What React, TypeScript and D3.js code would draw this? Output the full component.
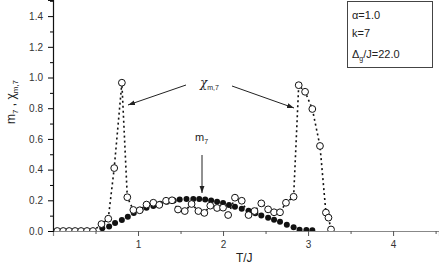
import React, { useEffect, useRef } from 'react';
import * as d3 from 'd3';

// chi_{m,7} (open circles, dotted line)
const chiT = [0.05, 0.12, 0.19, 0.26, 0.33, 0.40, 0.47, 0.57, 0.65, 0.72, 0.81, 0.874, 0.945, 1.02, 1.10, 1.18, 1.25, 1.33, 1.40, 1.47, 1.55, 1.63, 1.71, 1.78, 1.85, 1.93, 2.0, 2.06, 2.14, 2.22, 2.30, 2.37, 2.45, 2.53, 2.60, 2.67, 2.74, 2.83, 2.89, 2.965, 3.05, 3.14, 3.21, 3.24, 3.27];
const chiV = [0, 0, 0, 0, 0, 0, 0, 0.045, 0.08, 0.41, 0.966, 0.22, 0.137, 0.135, 0.172, 0.184, 0.17, 0.197, 0.2, 0.14, 0.13, 0.176, 0.13, 0.118, 0.165, 0.15, 0.152, 0.104, 0.217, 0.197, 0.104, 0.13, 0.18, 0.141, 0.122, 0.122, 0.184, 0.223, 0.95, 0.907, 0.795, 0.554, 0.12, 0.087, 0.01];

// m_7 (filled circles)
const mT = [0.58, 0.66, 0.73, 0.81, 0.88, 0.95, 1.03, 1.10, 1.18, 1.26, 1.34, 1.42, 1.49, 1.57, 1.65, 1.72, 1.79, 1.86, 1.93, 2.0, 2.07, 2.14, 2.22, 2.30, 2.38, 2.45, 2.53, 2.60, 2.67, 2.75, 2.83, 2.90, 2.98, 3.05];
const mV = [0.018, 0.03, 0.052, 0.072, 0.093, 0.118, 0.138, 0.152, 0.163, 0.178, 0.19, 0.199, 0.205, 0.208, 0.209, 0.208, 0.206, 0.199, 0.191, 0.183, 0.17, 0.158, 0.145, 0.132, 0.116, 0.101, 0.087, 0.073, 0.06, 0.04, 0.024, 0.008, 0.006, 0.005];

const xTicks = [1, 2, 3, 4];
const yTicks = [0, 0.2, 0.4, 0.6, 0.8, 1.0, 1.2, 1.4];

function App() {
  const svgRef = useRef<SVGSVGElement>(null);

  useEffect(() => {
    const svg = d3.select(svgRef.current);
    svg.selectAll('*').remove();
    const W = 439, H = 272;
    const left = 53, bottom = 231, top = 0;

    const x = d3.scaleLinear().domain([0, 4.54]).range([left, W]);
    const y = d3.scaleLinear().domain([0, 1.505]).range([bottom, top]);

    const font = 'Liberation Sans, Arial, sans-serif';

    svg.append('defs').append('clipPath').attr('id', 'plotclip')
      .append('rect').attr('x', left).attr('y', top).attr('width', W - left).attr('height', bottom - top);

    // arrowhead
    svg.select('defs').append('marker')
      .attr('id', 'arr').attr('viewBox', '0 0 10 10').attr('refX', 10).attr('refY', 5)
      .attr('markerWidth', 7).attr('markerHeight', 7).attr('orient', 'auto-start-reverse')
      .append('path').attr('d', 'M0,1.5 L10,5 L0,8.5 Z').attr('fill', '#222');

    // x axis
    const xAxis = d3.axisBottom(x).tickValues(xTicks).tickSize(5).tickFormat(d3.format('d'));
    const gx = svg.append('g').attr('transform', `translate(0,${bottom})`).call(xAxis);
    gx.select('.domain').attr('stroke', '#888').attr('stroke-width', 1.2);
    gx.selectAll('.tick line').attr('stroke', '#555');
    gx.selectAll('.tick text').attr('font-family', font).attr('font-size', 10).attr('fill', '#333').attr('dy', '0.9em');
    const gxm = svg.append('g').attr('transform', `translate(0,${bottom})`)
      .call(d3.axisBottom(x).tickValues([0.5, 1.5, 2.5, 3.5, 4.5]).tickSize(3).tickFormat(() => ''));
    gxm.select('.domain').remove();
    gxm.selectAll('.tick line').attr('stroke', '#555');

    // y axis
    const yAxis = d3.axisLeft(y).tickValues(yTicks).tickSize(5).tickFormat(d3.format('.1f'));
    const gy = svg.append('g').attr('transform', `translate(${left},0)`).call(yAxis);
    gy.select('.domain').attr('stroke', '#111').attr('stroke-width', 1.2);
    gy.selectAll('.tick text').attr('font-family', font).attr('font-size', 10).attr('fill', '#333').attr('dx', '-0.2em');
    const gym = svg.append('g').attr('transform', `translate(${left},0)`)
      .call(d3.axisLeft(y).tickValues([0.1, 0.3, 0.5, 0.7, 0.9, 1.1, 1.3, 1.5]).tickSize(3).tickFormat(() => ''));
    gym.select('.domain').remove();

    // axis labels
    svg.append('text').attr('x', x(2.25)).attr('y', 262).attr('text-anchor', 'middle')
      .attr('font-family', font).attr('font-size', 12).attr('fill', '#222').text('T/J');
    const yl = svg.append('text').attr('transform', 'translate(15,102) rotate(-90)').attr('text-anchor', 'middle')
      .attr('font-family', font).attr('font-size', 12).attr('fill', '#222');
    yl.append('tspan').text('m');
    yl.append('tspan').attr('font-size', 8).attr('dy', 3).text('7');
    yl.append('tspan').attr('dy', -3).text(' ,  χ');
    yl.append('tspan').attr('font-size', 8).attr('dy', 3).text('m,7');

    const plot = svg.append('g').attr('clip-path', 'url(#plotclip)');

    const chi = chiT.map((t, i) => [t, chiV[i]] as [number, number]);
    const m = mT.map((t, i) => [t, mV[i]] as [number, number]);

    const line = d3.line<[number, number]>().x(d => x(d[0])).y(d => y(d[1]));
    plot.append('path').attr('d', line(chi)).attr('fill', 'none').attr('stroke', '#111')
      .attr('stroke-width', 1.6).attr('stroke-dasharray', '2 3');

    plot.selectAll('.m').data(m).enter().append('circle')
      .attr('cx', d => x(d[0])).attr('cy', d => y(d[1])).attr('r', 3).attr('fill', '#111');

    plot.selectAll('.chi').data(chi).enter().append('circle')
      .attr('cx', d => x(d[0])).attr('cy', d => y(d[1])).attr('r', 3.4)
      .attr('fill', '#fff').attr('stroke', '#111').attr('stroke-width', 1);

    // annotations
    const chiLbl = svg.append('text').attr('x', 200).attr('y', 87).attr('font-family', 'DejaVu Serif, serif')
      .attr('font-style', 'italic').attr('font-size', 12).attr('fill', '#222');
    chiLbl.append('tspan').text('χ');
    chiLbl.append('tspan').attr('font-size', 7).attr('dy', 3).attr('font-style', 'normal')
      .attr('font-family', font).text('m,7');
    svg.append('line').attr('x1', 186).attr('y1', 85).attr('x2', 128).attr('y2', 105)
      .attr('stroke', '#222').attr('stroke-width', 1).attr('marker-end', 'url(#arr)');
    svg.append('line').attr('x1', 232).attr('y1', 86).attr('x2', 294).attr('y2', 108)
      .attr('stroke', '#222').attr('stroke-width', 1).attr('marker-end', 'url(#arr)');

    const mLbl = svg.append('text').attr('x', 195).attr('y', 141).attr('font-family', font)
      .attr('font-size', 11).attr('fill', '#222');
    mLbl.append('tspan').text('m');
    mLbl.append('tspan').attr('font-size', 7).attr('dy', 3).text('7');
    svg.append('line').attr('x1', 202).attr('y1', 155).attr('x2', 202).attr('y2', 193)
      .attr('stroke', '#222').attr('stroke-width', 1).attr('marker-end', 'url(#arr)');

    // parameter box
    svg.append('rect').attr('x', 347.5).attr('y', 1.5).attr('width', 85).attr('height', 66)
      .attr('fill', '#fff').attr('stroke', '#444').attr('stroke-width', 1);
    const lines = [['α=1.0', ''], ['k=7', ''], ['Δ', 'g', '/J=22.0']];
    lines.forEach((l, i) => {
      const t = svg.append('text').attr('x', 352).attr('y', [19, 37, 58][i])
        .attr('font-family', font).attr('font-size', 11).attr('fill', '#222');
      t.append('tspan').text(l[0]);
      if (l.length > 2) {
        t.append('tspan').attr('font-size', 7).attr('dy', 3).text(l[1]);
        t.append('tspan').attr('dy', -3).text(l[2]);
      }
    });
  }, []);

  return (
    <svg ref={svgRef} width={439} height={272}
      style={{ position: 'absolute', left: 0, top: 0, background: '#fff' }} />
  );
}

export default App;
